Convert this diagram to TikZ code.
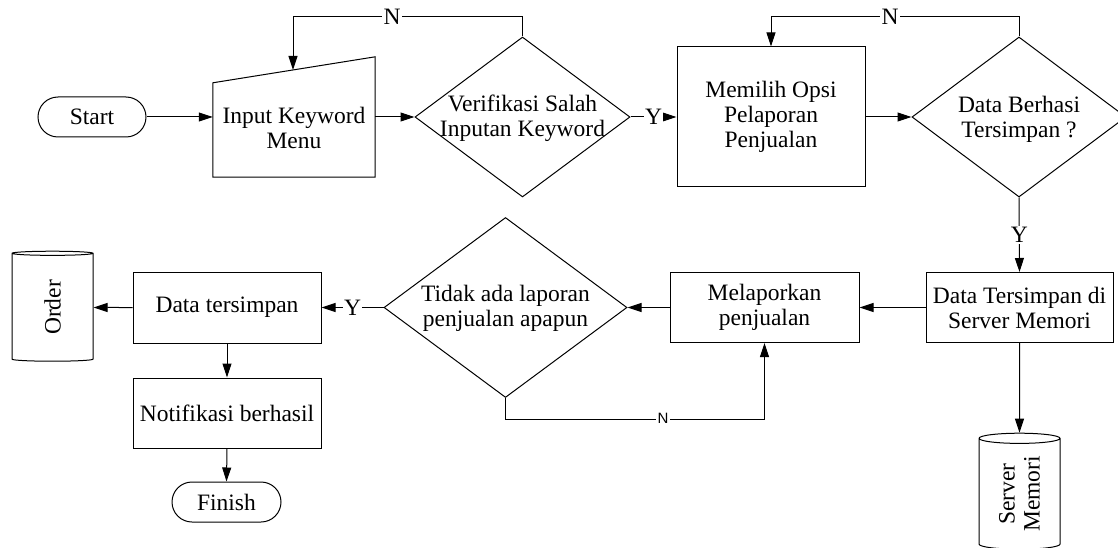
\documentclass[tikz,border=0pt]{standalone}
\usepackage{fontspec}
\setmainfont{Liberation Serif}
\newfontfamily\lsans{Liberation Sans}
\usetikzlibrary{shapes.geometric,arrows.meta,calc}
\begin{document}
\begin{tikzpicture}[x=1pt,y=-1pt,
  every node/.style={font=\fontsize{23.5}{25}\selectfont, align=center, inner sep=0pt},
  box/.style={draw, line width=1pt, minimum width=188pt, minimum height=70pt},
  term/.style={draw, line width=1pt, rounded corners=20pt, minimum width=108pt, minimum height=40pt},
  dec/.style={draw, diamond, line width=1pt, aspect=1.34},
  db/.style={draw, cylinder, line width=1pt, rotate=90, aspect=0.25},
  arr/.style={line width=1pt, -{Triangle[length=14pt,width=9pt]}},
  ln/.style={line width=1pt},
  lbl/.style={fill=white, inner sep=1.5pt}
]
\useasboundingbox (0,0) rectangle (1118,548);

% top row
\node[term] (start) at (92,117) {Start};
\node[minimum width=162pt, minimum height=98pt] (inp) at (294,128) {Input Keyword\\Menu};
\draw[ln] (inp.south west) -- (inp.south east) -- ([yshift=22pt]inp.north east) -- ([yshift=-4pt]inp.north west) -- cycle;
\coordinate (inpTop) at (293,70);

\node[dec, minimum width=215pt, minimum height=160pt] (d1) at (522.5,117) {};
\node (d1t) at (522.5,118) {Verifikasi Salah\\Inputan Keyword};

\node[box, minimum height=140pt] (mem) at (771,117) {Memilih Opsi\\Pelaporan\\Penjualan};

\node[dec, minimum width=214pt, minimum height=160pt] (d2) at (1019,117) {};
\node (d2t) at (1019,119) {Data Berhasi\\Tersimpan ?};

% middle row
\node[box, minimum width=187pt] (dts) at (1019.5,307.5) {Data Tersimpan di\\Server Memori};
\node[box, minimum width=189pt] (mel) at (764.5,307.5) {Melaporkan\\penjualan};
\node[dec, minimum width=243pt, minimum height=180pt] (d3) at (505.5,307.5) {};
\node (d3t) at (505.5,308) {Tidak ada laporan\\penjualan apapun};
\node[box, minimum height=71pt] (dt) at (227,307.5) {Data tersimpan};
\node[db, minimum width=81pt, minimum height=110pt] (order) at (52.5,307.5) {Order};

% bottom
\node[box] (notif) at (227,413) {Notifikasi berhasil};
\node[term, minimum width=109pt] (fin) at (226.5,502) {Finish};
\node[db, minimum width=81pt, minimum height=116pt] (srv) at (1019.5,494) {Server\\Memori};

% connectors
\draw[arr] (start.east) -- (start.east -| inp.west);
\draw[arr] (d1.west -| inp.east) -- (d1.west);
\draw[arr] (d1.north) -- ++(0,-20) -| (inpTop);
\draw[arr] (d1.east) -- node[lbl]{Y} (mem.west);
\draw[arr] (mem.east) -- (d2.west);
\draw[arr] (d2.north) -- ++(0,-20) -| (mem.north);
\draw[arr] (d2.south) -- node[lbl]{Y} (dts.north);
\draw[arr] (dts.west) -- (mel.east);
\draw[arr] (mel.west) -- (d3.east);
\draw[arr] (d3.west) -- node[lbl]{Y} (dt.east);
\draw[arr] (d3.south) -- ++(0,21) -| (mel.south);
\draw[arr] (dt.west) -- (order.south);
\draw[arr] (dt.south) -- (notif.north);
\draw[arr] (notif.south) -- (fin.north);
\draw[arr] (dts.south) -- (srv.east);

% loop labels
\node[lbl] (n1) at (392,17) {N};
\node[lbl] (n2) at (890,17) {N};
\node[lbl, font=\lsans\fontsize{15}{18}\selectfont] (n3) at (663,418) {N};
\end{tikzpicture}
\end{document}
